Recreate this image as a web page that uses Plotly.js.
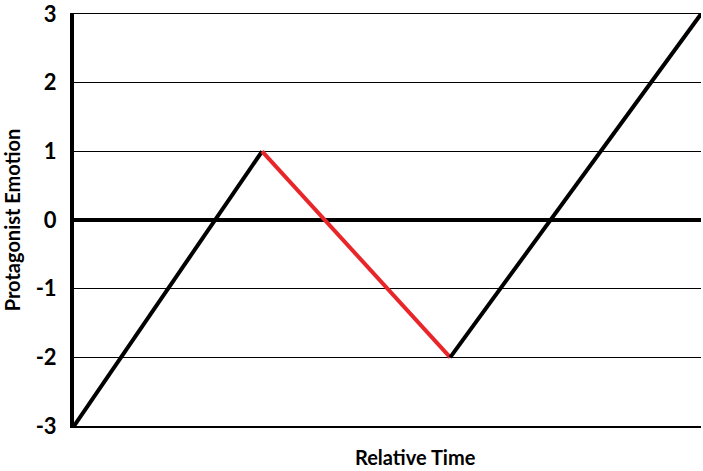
<!DOCTYPE html>
<html>
<head>
<meta charset="utf-8">
<script src="https://cdn.plot.ly/plotly-3.0.1.min.js"></script>
<style>html,body{margin:0;padding:0;background:#fff;}#chart{width:703px;height:471px;}</style>
</head>
<body>
<div id="chart"></div>
<script>
// Data
const timePoints = [0, 3, 6, 10];
const emotion = [-3, 1, -2, 3];
const segmentColors = ["black", "#e8262a", "black"];
const yTickVals = [-3, -2, -1, 0, 1, 2, 3];
const yTickText = ["-3", "-2", "-1", "0", "1", "2", "3"];
const xTitle = "Relative Time";
const yTitle = "Protagonist Emotion";

const traces = [];
for (let i = 0; i < timePoints.length - 1; i++) {
  traces.push({
    x: [timePoints[i], timePoints[i + 1]],
    y: [emotion[i], emotion[i + 1]],
    mode: "lines",
    line: {color: segmentColors[i], width: 4},
    cliponaxis: false,
    hoverinfo: "skip",
    showlegend: false
  });
}

const layout = {
  width: 703,
  height: 471,
  margin: {l: 74, r: 2, t: 14, b: 45},
  paper_bgcolor: "white",
  plot_bgcolor: "white",
  font: {family: "Lato, sans-serif", color: "black"},
  xaxis: {
    range: [0, 10],
    showgrid: false,
    zeroline: false,
    showticklabels: false,
    showline: true,
    mirror: true,
    linecolor: "black",
    linewidth: 1.5,
    ticks: ""
  },
  yaxis: {
    range: [-3, 3],
    tickvals: yTickVals,
    ticktext: yTickText,
    tickfont: {size: 22, family: "Lato", weight: "bold"},
    ticklabeloverflow: "allow",
    showgrid: true,
    gridcolor: "black",
    gridwidth: 1.5,
    zeroline: true,
    zerolinecolor: "black",
    zerolinewidth: 4,
    showline: true,
    linecolor: "black",
    linewidth: 4,
    ticks: "",
    ticklabelstandoff: 9,
    title: {text: "<b>" + yTitle + "</b>", font: {size: 20, family: "Lato"}, standoff: 12}
  },
  annotations: [{
    text: "<b>" + xTitle + "</b>",
    xref: "paper", yref: "paper",
    x: 0.545, y: 0,
    yshift: -31,
    xanchor: "center", yanchor: "middle",
    showarrow: false,
    font: {size: 20, family: "Lato", color: "black"}
  }]
};

Plotly.newPlot("chart", traces, layout, {displayModeBar: false, staticPlot: true});
</script>
</body>
</html>
